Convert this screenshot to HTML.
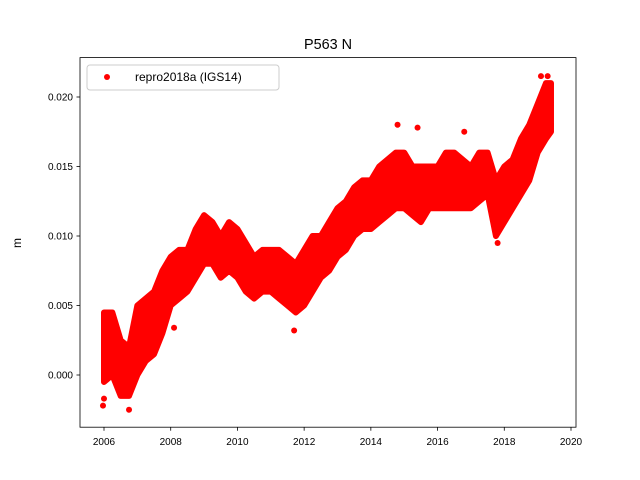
<!DOCTYPE html>
<html><head><meta charset="utf-8"><style>
body{margin:0;background:#fff}
svg{display:block;font-family:"Liberation Sans","DejaVu Sans",sans-serif}
</style></head><body>
<svg id="chart" width="640" height="480" viewBox="0 0 640 480">
<rect x="0" y="0" width="640" height="480" fill="#fff"/>
<text x="328" y="49" font-size="14.4" text-anchor="middle">P563 N</text>
<g id="marks"></g>
<g id="axes"></g>
<rect x="80" y="57.6" width="496" height="369.6" fill="none" stroke="#000" stroke-width="0.8"/>
<text x="21" y="243" font-size="12" text-anchor="middle" transform="rotate(-90 21 243)">m</text>
<g>
<rect x="87" y="65" width="192" height="25" rx="3" fill="#fff" fill-opacity="0.8" stroke="#ccc"/>
<circle cx="107" cy="77" r="3" fill="red"/>
<text x="135" y="81" font-size="12">repro2018a (IGS14)</text>
</g>
</svg>
<script>
const binTimes=[2006.0,2006.25,2006.5,2006.75,2007.0,2007.25,2007.5,2007.75,2008.0,2008.25,2008.5,2008.75,2009.0,2009.25,2009.5,2009.75,2010.0,2010.25,2010.5,2010.75,2011.0,2011.25,2011.5,2011.75,2012.0,2012.25,2012.5,2012.75,2013.0,2013.25,2013.5,2013.75,2014.0,2014.25,2014.5,2014.75,2015.0,2015.25,2015.5,2015.75,2016.0,2016.25,2016.5,2016.75,2017.0,2017.25,2017.5,2017.75,2018.0,2018.25,2018.5,2018.75,2019.0,2019.25,2019.4];
const lowVals=[-0.0005,0.0,-0.0015,-0.0015,0.0,0.001,0.0015,0.003,0.005,0.0055,0.006,0.007,0.008,0.008,0.007,0.0075,0.007,0.006,0.0055,0.006,0.006,0.0055,0.005,0.0045,0.005,0.006,0.007,0.0075,0.0085,0.009,0.010,0.0105,0.0105,0.011,0.0115,0.012,0.012,0.0115,0.011,0.012,0.012,0.012,0.012,0.012,0.012,0.0125,0.013,0.010,0.011,0.012,0.013,0.014,0.016,0.017,0.0175];
const highVals=[0.0045,0.0045,0.0025,0.002,0.005,0.0055,0.006,0.0075,0.0085,0.009,0.009,0.0105,0.0115,0.011,0.010,0.011,0.0105,0.0095,0.0085,0.009,0.009,0.009,0.0085,0.008,0.009,0.010,0.010,0.011,0.012,0.0125,0.0135,0.014,0.014,0.015,0.0155,0.016,0.016,0.015,0.015,0.015,0.015,0.016,0.016,0.0155,0.015,0.016,0.016,0.014,0.015,0.0155,0.017,0.018,0.0195,0.021,0.021];
const outlierTimes=[2005.97,2006.0,2006.75,2008.1,2011.7,2014.8,2015.4,2016.8,2017.8,2019.3,2019.1];
const outlierVals=[-0.0022,-0.0017,-0.0025,0.0034,0.0032,0.018,0.0178,0.0175,0.0095,0.0215,0.0215];
const xTicks=[2006,2008,2010,2012,2014,2016,2018,2020];
const yTicks=[0.000,0.005,0.010,0.015,0.020];
const yTickLabels=["0.000","0.005","0.010","0.015","0.020"];

const X=t=>104+(t-2006)*(571-104)/14;
const Y=v=>375-v*(375-97)/0.020;
const NS="http://www.w3.org/2000/svg";
const marks=document.getElementById('marks');
const axes=document.getElementById('axes');
function mk(tag,attrs,parent){const e=document.createElementNS(NS,tag);for(const k in attrs)e.setAttribute(k,attrs[k]);parent.appendChild(e);return e;}

let pts=[];
binTimes.forEach((t,i)=>pts.push(X(t)+','+Y(highVals[i])));
for(let i=binTimes.length-1;i>=0;i--)pts.push(X(binTimes[i])+','+Y(lowVals[i]));
const band=mk('polygon',{points:pts.join(' '),fill:'red',stroke:'red','stroke-width':6,'stroke-linejoin':'round'},marks);


outlierTimes.forEach((t,i)=>{
  const c=mk('circle',{cx:X(t),cy:Y(outlierVals[i]),r:3,fill:'red'},marks);
  
  
});
xTicks.forEach(t=>{
  const x=X(t);
  const l=mk('line',{x1:x,x2:x,y1:427.2,y2:430.7,stroke:'#000','stroke-width':0.8},axes);
  
  
  const tx=mk('text',{x:x,y:445,'font-size':10,'text-anchor':'middle'},axes);
  tx.textContent=t;
  
  
});
yTicks.forEach((v,i)=>{
  const y=Y(v);
  const l=mk('line',{x1:76.5,x2:80,y1:y,y2:y,stroke:'#000','stroke-width':0.8},axes);
  
  
  const tx=mk('text',{x:73,y:y+3.6,'font-size':10,'text-anchor':'end'},axes);
  tx.textContent=yTickLabels[i];
  
  
});
</script>
</body></html>
